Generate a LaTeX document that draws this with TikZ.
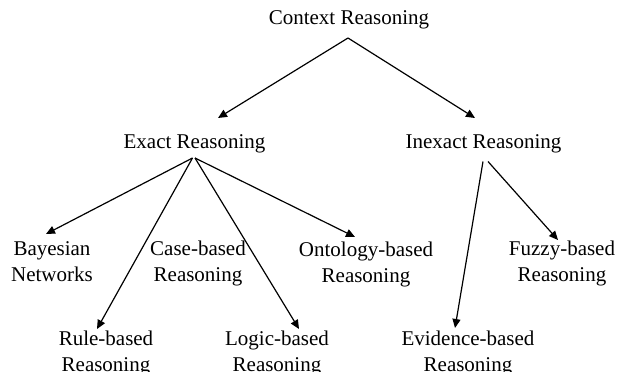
\documentclass[tikz,border=0pt]{standalone}
\usepackage{fontspec}
\setmainfont{Liberation Serif}
\usetikzlibrary{arrows.meta,calc}
\begin{document}
\begin{tikzpicture}[x=1pt,y=-1pt,
  label/.style={font=\fontsize{21}{26}\selectfont, inner sep=0pt, align=center, anchor=base},
  arr/.style={line width=1.2pt, -{Triangle[length=9pt,width=8pt]}}]
\useasboundingbox (0,0) rectangle (622,372);

% taxonomy labels (two-line labels are placed by the baseline of their last line)
\node[label] (ctx) at (349,24) {Context Reasoning};
\node[label] (exact) at (194.5,148) {Exact Reasoning};
\node[label] (inexact) at (483.5,148) {Inexact Reasoning};
\node[label] (bayes) at (52,281) {Bayesian\\Networks};
\node[label] (case) at (198,281) {Case-based\\Reasoning};
\node[label] (onto) at (366,282) {Ontology-based\\Reasoning};
\node[label] (fuzzy) at (562,281) {Fuzzy-based\\Reasoning};
\node[label] (rule) at (106,371) {Rule-based\\Reasoning};
\node[label] (logic) at (277,371) {Logic-based\\Reasoning};
\node[label] (evid) at (468,371) {Evidence-based\\Reasoning};

% top level split
\draw[arr] ($(ctx.base)+(-1,14)$) -- ($(exact.base)+(23.5,-30)$);
\draw[arr] ($(ctx.base)+(-1,14)$) -- ($(inexact.base)+(-8.5,-30)$);

% exact reasoning branches
\draw[arr] ($(exact.base)+(-2,10)$) -- ($(bayes.base)+(-6,-47)$);
\draw[arr] ($(exact.base)+(-2,10)$) -- ($(rule.base)+(-9,-42)$);
\draw[arr] ($(exact.base)+(0.5,10)$) -- ($(logic.base)+(22,-42)$);
\draw[arr] ($(exact.base)+(0.5,10)$) -- ($(onto.base)+(-11,-45)$);

% inexact reasoning branches
\draw[arr] ($(inexact.base)+(-0.5,13.5)$) -- ($(evid.base)+(-13,-43)$);
\draw[arr] ($(inexact.base)+(4.5,13.5)$) -- ($(fuzzy.base)+(-4,-41)$);
\end{tikzpicture}
\end{document}
